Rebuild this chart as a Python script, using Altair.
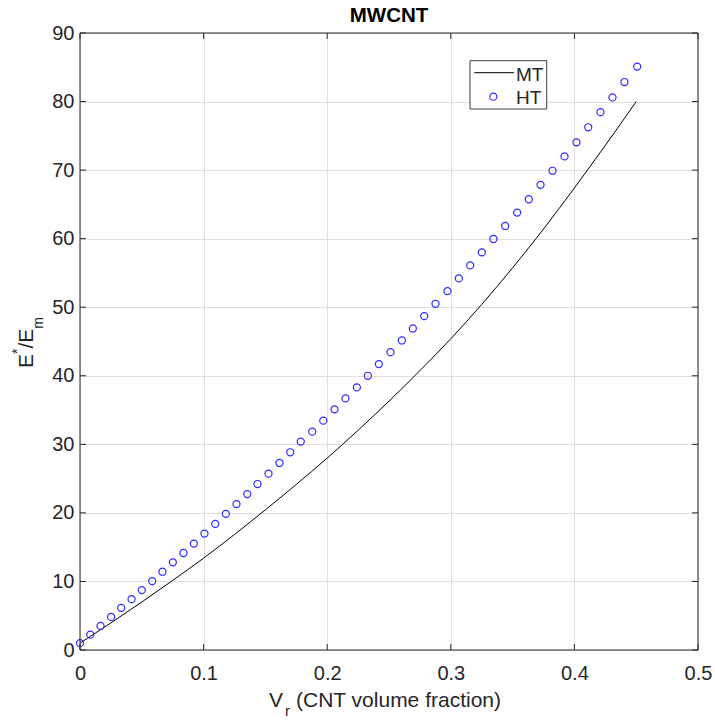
import altair as alt
import pandas as pd

# ---------------- data ----------------
ht_x = [0.000, 0.0083, 0.0166, 0.0252, 0.0333, 0.0417, 0.0500, 0.0584, 0.0667, 0.0751,
        0.0837, 0.0921, 0.1007, 0.1094, 0.1180, 0.1266, 0.1353, 0.1436, 0.1525, 0.1614,
        0.1701, 0.1786, 0.1879, 0.1968, 0.2059, 0.2148, 0.2240, 0.2329, 0.2418, 0.2512,
        0.2604, 0.2693, 0.2785, 0.2876, 0.2973, 0.3065, 0.3157, 0.3251, 0.3345, 0.3440,
        0.3537, 0.3631, 0.3726, 0.3823, 0.3920, 0.4017, 0.4112, 0.4211, 0.4308, 0.4405,
        0.4508]
ht_y = [1.0, 2.24, 3.51, 4.83, 6.15, 7.42, 8.74, 10.05, 11.42, 12.79,
        14.15, 15.52, 16.98, 18.40, 19.86, 21.28, 22.74, 24.21, 25.72, 27.28,
        28.84, 30.40, 31.85, 33.45, 35.1, 36.7, 38.3, 40.0, 41.7, 43.45,
        45.15, 46.9, 48.7, 50.5, 52.35, 54.2, 56.1, 58.0, 59.95, 61.85,
        63.8, 65.75, 67.85, 69.9, 72.0, 74.05, 76.25, 78.45, 80.6, 82.85,
        85.1]

mt_x = [0.0, 0.025, 0.05, 0.075, 0.1, 0.125, 0.15, 0.175, 0.2, 0.225,
        0.25, 0.275, 0.3, 0.325, 0.35, 0.375, 0.4, 0.425, 0.45]
mt_y = [1.0, 3.95, 7.0, 10.15, 13.4, 16.85, 20.45, 24.15, 28.0, 32.05,
        36.3, 40.75, 45.4, 50.4, 55.75, 61.4, 67.4, 73.6, 80.0]

x_ticks = [0, 0.1, 0.2, 0.3, 0.4, 0.5]
y_ticks = [0, 10, 20, 30, 40, 50, 60, 70, 80, 90]

series_names = ["MT", "HT"]
chart_title = "MWCNT"

# ---------------- styling ----------------
W, H = 618, 617
FONT = "Liberation Sans"
AX = "#262626"
GRID = "#dfdfdf"
BLUE = "#2b2bff"
TL = 6  # inward tick length

ht_df = pd.DataFrame({"x": ht_x, "y": ht_y})
mt_df = pd.DataFrame({"x": mt_x, "y": mt_y})
xt_df = pd.DataFrame({"x": x_ticks})
yt_df = pd.DataFrame({"y": y_ticks})
one = pd.DataFrame({"a": [0]})

xscale = alt.Scale(domain=[0, 0.5], nice=False, zero=False)
yscale = alt.Scale(domain=[0, 90], nice=False, zero=False)

x_axis = alt.Axis(values=x_ticks, format="~g", grid=True, gridColor=GRID, gridWidth=1,
                  domain=False, ticks=False, tickSize=0, labelFont=FONT, labelFontSize=20,
                  labelColor=AX, labelPadding=13, labelFlush=False, labelOverlap=False,
                  title="")
y_axis = alt.Axis(values=y_ticks, format="d", grid=True, gridColor=GRID, gridWidth=1,
                  domain=False, ticks=False, tickSize=0, labelFont=FONT, labelFontSize=20,
                  labelColor=AX, labelPadding=6, labelFlush=False, labelOverlap=False,
                  title="")

X = alt.X("x:Q", scale=xscale, axis=x_axis)
Y = alt.Y("y:Q", scale=yscale, axis=y_axis)

mt_line = alt.Chart(mt_df).mark_line(color="#000000", strokeWidth=1,
                                     interpolate="monotone").encode(x=X, y=Y)

ht_pts = alt.Chart(ht_df).mark_point(shape="circle", filled=False, color=BLUE,
                                     strokeWidth=1.2, size=50, opacity=1).encode(x=X, y=Y)

box = alt.Chart(one).mark_rect(filled=False, stroke=AX, strokeWidth=1).encode(
    x=alt.value(0), x2=alt.value(W), y=alt.value(0), y2=alt.value(H)
)

def yticks(x0, x1):
    return alt.Chart(yt_df).mark_rule(color=AX, strokeWidth=1).encode(
        y=Y, x=alt.value(x0), x2=alt.value(x1))

def xticks(y0, y1):
    return alt.Chart(xt_df).mark_rule(color=AX, strokeWidth=1).encode(
        x=X, y=alt.value(y0), y2=alt.value(y1))

ticks = [yticks(0, TL), yticks(W - TL, W), xticks(H - TL, H), xticks(0, TL)]

def txt(s, x, y, size=20, bold=False, align="left", angle=0):
    kw = dict(text=s, font=FONT, fontSize=size, color=AX if not bold else "#000000",
              align=align, baseline="alphabetic")
    if bold:
        kw["fontWeight"] = "bold"
    if angle:
        kw["angle"] = angle
    return alt.Chart(one).mark_text(**kw).encode(x=alt.value(x), y=alt.value(y))

title = txt(chart_title, W / 2, -11.5, size=20.5, bold=True, align="center")

# x axis title: V_r (CNT volume fraction)
xt1 = txt("V", 189, 674, size=21)
xt2 = txt("r", 205, 683, size=15)
xt3 = txt("(CNT volume fraction)", 216, 674, size=21)

# y axis title: E^*/E_m (rotated)
yt1 = txt("E", -46.7, 335, size=21, angle=270)
yt2 = txt("*", -58, 321, size=14, angle=270)
yt3 = txt("/", -46.7, 315.6, size=21, angle=270)
yt4 = txt("E", -46.7, 309.8, size=21, angle=270)
yt5 = txt("m", -37, 295.8, size=14, angle=270)

# legend
leg_box = alt.Chart(one).mark_rect(fill="#ffffff", stroke="#3c3c3c", strokeWidth=1).encode(
    x=alt.value(390), x2=alt.value(466.7), y=alt.value(27.7), y2=alt.value(76)
)
leg_line = alt.Chart(one).mark_rule(color="#000000", strokeWidth=1).encode(
    x=alt.value(394.3), x2=alt.value(434), y=alt.value(39.7)
)
leg_pt = alt.Chart(one).mark_point(shape="circle", filled=False, color=BLUE,
                                   strokeWidth=1.2, size=50, opacity=1).encode(
    x=alt.value(413.3), y=alt.value(63.7)
)
leg_t1 = txt(series_names[0], 436, 48, size=19)
leg_t2 = txt(series_names[1], 436, 71.3, size=19)

chart = alt.layer(
    mt_line, ht_pts, box, *ticks, title, xt1, xt2, xt3, yt1, yt2, yt3, yt4, yt5,
    leg_box, leg_line, leg_pt, leg_t1, leg_t2,
).properties(
    width=W, height=H,
    autosize=alt.AutoSizeParams(type="none"),
    padding={"left": 80, "top": 33, "right": 17, "bottom": 72},
    background="#ffffff",
).configure_view(strokeWidth=0)

chart.save("out.html", embed_options={"renderer": "svg", "actions": False})
